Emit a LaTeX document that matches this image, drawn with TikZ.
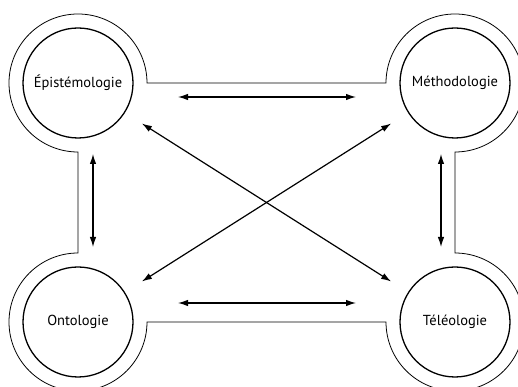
\documentclass[tikz,border=0pt]{standalone}
\usepackage{fontspec}
\setmainfont{PT Sans}
\usetikzlibrary{arrows.meta,calc}
\begin{document}
\begin{tikzpicture}[x=1pt,y=1pt,
  concept/.style={circle,draw,line width=1.3pt,minimum size=110pt,inner sep=0pt,font=\fontsize{14.5}{17}\selectfont},
  frame/.style={draw,line width=0.8pt},
  arr/.style={line width=1.2pt,{Latex[length=10pt,width=6.5pt]}-{Latex[length=10pt,width=6.5pt]}}]
\useasboundingbox (0,0) rectangle (518,387);
\clip (0,0) rectangle (518,387);
\node[concept] (E) at (78,304) {Épistémologie};
\node[concept] (M) at (455,304) {Méthodologie};
\node[concept] (O) at (78,65) {Ontologie};
\node[concept] (T) at (455,65) {Téléologie};
\draw[frame] ($(E)+(69,0)$) -- ($(M)+(-69,0)$) arc[start angle=180,end angle=-90,radius=69]
  -- ($(T)+(0,69)$) arc[start angle=90,end angle=-180,radius=69]
  -- ($(O)+(69,0)$) arc[start angle=0,end angle=-270,radius=69]
  -- ($(E)+(0,-69)$) arc[start angle=-90,end angle=-360,radius=69] -- cycle;
\draw[arr] ($(E)+(100,-14)$) -- ($(M)+(-99,-14)$);
\draw[arr] ($(O)+(100,19)$) -- ($(T)+(-99,19)$);
\draw[arr] ($(E)+(15,-71)$) -- ($(O)+(15,75)$);
\draw[arr] ($(M)+(-14,-71)$) -- ($(T)+(-14,75)$);
\draw[arr,shorten <=20pt,shorten >=20pt] (E) -- (T);
\draw[arr,shorten <=20pt,shorten >=20pt] (M) -- (O);
\end{tikzpicture}
\end{document}
